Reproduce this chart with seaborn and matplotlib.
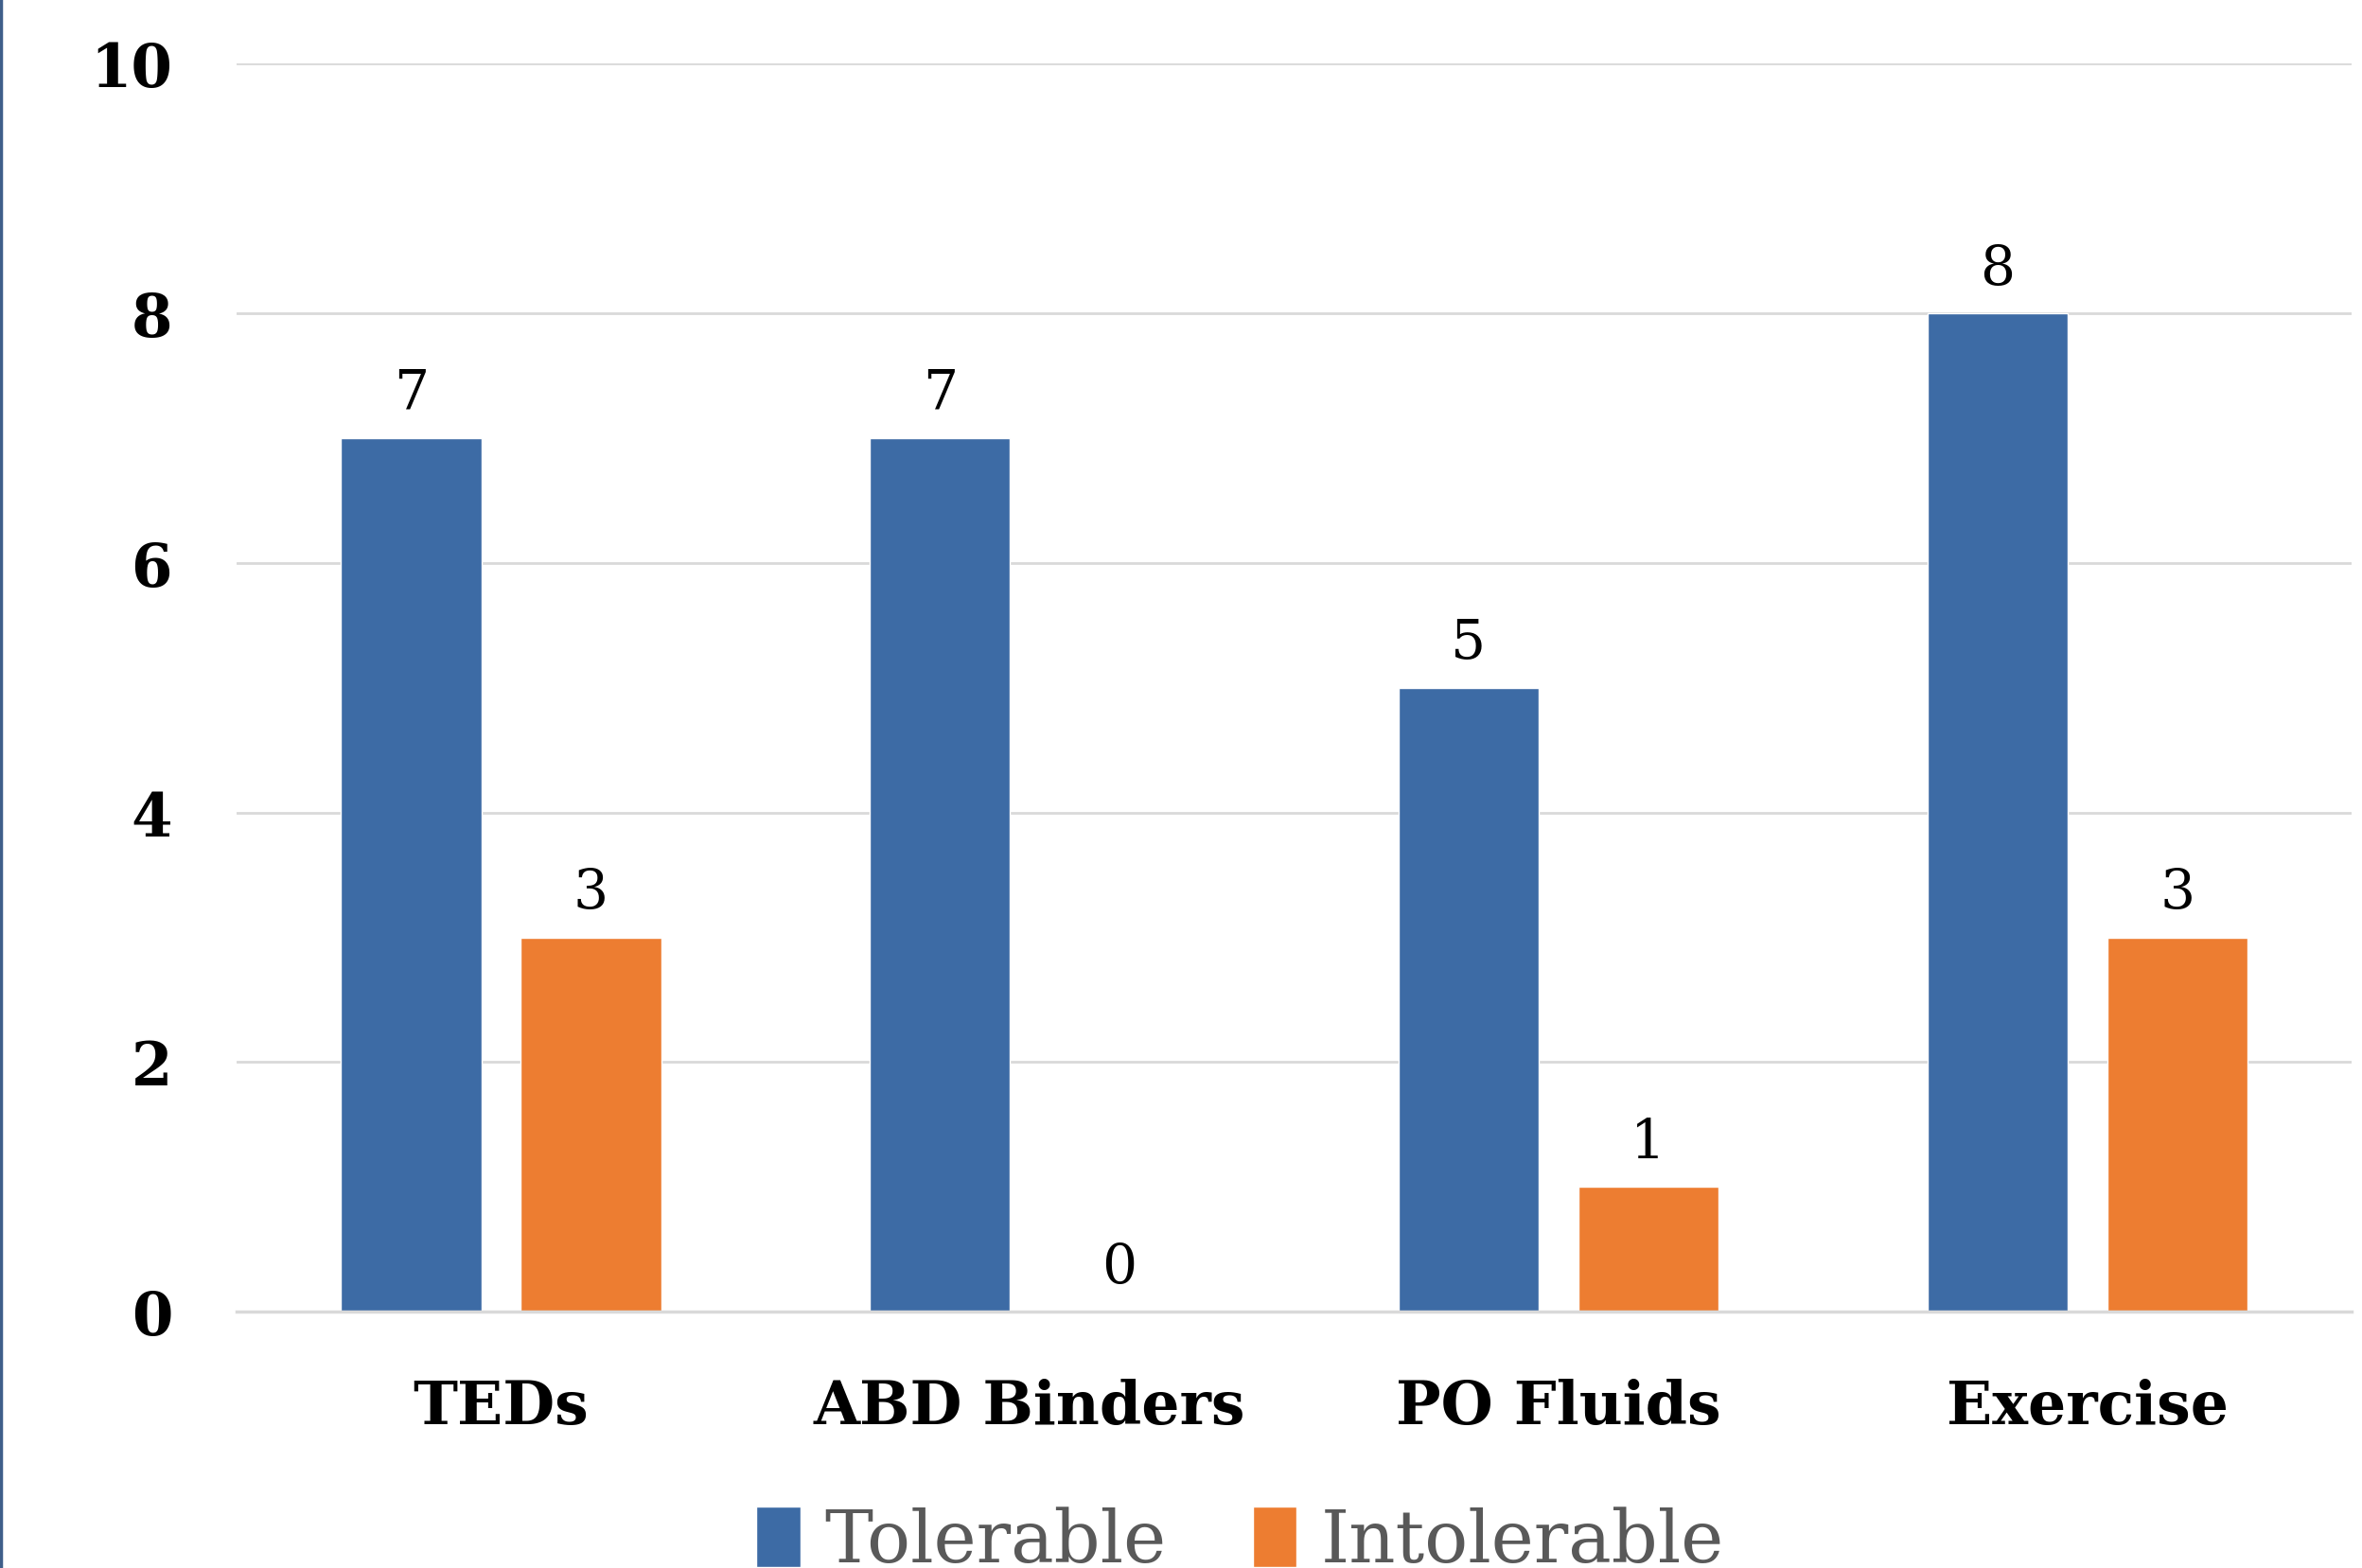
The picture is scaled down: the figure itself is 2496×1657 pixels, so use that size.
import pandas as pd
import matplotlib
matplotlib.use('Agg')
import matplotlib.pyplot as plt
from matplotlib.lines import Line2D
import seaborn as sns

# 값
categories = ['TEDs', 'ABD Binders', 'PO Fluids', 'Exercise']
tolerable = [7, 7, 5, 8]
intolerable = [3, 0, 1, 3]
series_names = ['Tolerable', 'Intolerable']
yticks = [0, 2, 4, 6, 8, 10]

df = pd.DataFrame({
    'category': categories * 2,
    'value': tolerable + intolerable,
    'series': [series_names[0]] * len(categories) + [series_names[1]] * len(categories),
})

sns.set_theme(style='white')
plt.rcParams['font.family'] = ['DejaVu Serif']

fig = plt.figure(figsize=(24.96, 16.58), dpi=100)
ax = fig.add_axes([0.1002, 0.1634, 0.8954, 0.7953])

sns.barplot(data=df, x='category', y='value', hue='series',
            palette=['#3D6BA5', '#ED7D31'], width=0.68, gap=0.22,
            saturation=1, ax=ax, legend=True)

ax.set_xlim(-0.5, 3.5)
ax.set_ylim(0, 10)
ax.set_yticks(yticks)
ax.yaxis.grid(True, color='#D9D9D9', linewidth=2)
ax.set_axisbelow(True)
for s in ['top', 'right', 'left']:
    ax.spines[s].set_visible(False)
ax.spines['bottom'].set_color('#D9D9D9')
ax.spines['bottom'].set_linewidth(2.5)
ax.set_xlabel('')
ax.set_ylabel('')
ax.tick_params(axis='y', length=0, pad=49, labelsize=45)
ax.tick_params(axis='x', length=0, pad=50, labelsize=45.5)
for lab in ax.get_yticklabels() + ax.get_xticklabels():
    lab.set_fontweight('bold')
    lab.set_color('black')

for c in ax.containers:
    ax.bar_label(c, fmt='%g', padding=14, fontsize=42, color='black')

#범례는 아래쪽에, 그림 밖으로 약간 잘리게
handles, labels = ax.get_legend_handles_labels()
ax.get_legend().remove()
leg = fig.legend(handles, labels, loc='upper center', bbox_to_anchor=(0.525, 0.039),
                 ncol=2, frameon=False, fontsize=55, handlelength=0.61,
                 handleheight=0.9, handletextpad=0.33, columnspacing=1.2,
                 borderpad=0, borderaxespad=0)
for t in leg.get_texts():
    t.set_color('#595959')

# 왼쪽 파란 테두리
fig.add_artist(Line2D([0.0006, 0.0006], [0, 1], transform=fig.transFigure,
                      color='#3F5F8A', linewidth=2.5))

fig.savefig('out.png', dpi=100)
